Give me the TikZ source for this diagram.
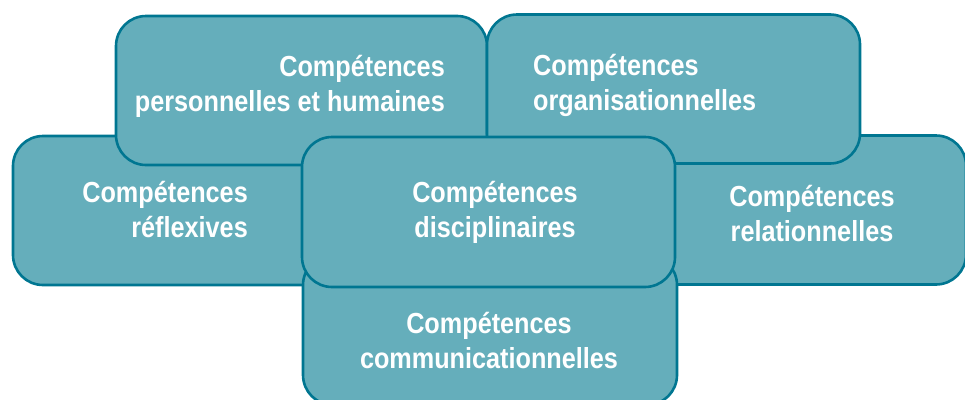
\documentclass[tikz,border=0pt]{standalone}
\usepackage{fontspec}
\setmainfont{Liberation Sans}[FakeStretch=0.87]
\definecolor{tealfill}{RGB}{101,174,187}
\definecolor{tealline}{RGB}{0,118,145}

\begin{document}
\begin{tikzpicture}[x=1pt, y=-1pt, every node/.style={font=\bfseries\fontsize{29}{34.5}\selectfont},
		box/.style={draw=tealline, fill=tealfill, line width=2.6pt, rounded corners=30pt, rectangle, inner sep=0pt, minimum height=149pt},
		txt/.style={text=white, inner sep=0pt}]
			\useasboundingbox (0,0) rectangle (965,399);

			% Boxes, back to front
			\node[box, minimum width=373pt] (refl) at (199.5,210.5) {};
			\node[box, minimum width=373pt] (rela) at (779.5,210) {};
			\node[box, minimum width=371pt] (pers) at (301.5,90.5) {};
			\node[box, minimum width=373pt] (orga) at (673.5,89) {};
			\node[box, minimum width=374pt, minimum height=150pt] (comm) at (490,330) {};
			\node[box, minimum width=373pt, minimum height=150pt] (disc) at (488.5,212) {};

			% Labels (base = last line)
			\node[txt, anchor=base east, align=right] (pers-t) at (445,111) {Compétences\\personnelles et humaines};
			\node[txt, anchor=base west, align=left] (orga-t) at (533,110) {Compétences\\organisationnelles};
			\node[txt, anchor=base east, align=right] (refl-t) at (248,237) {Compétences\\réflexives};
			\node[txt, anchor=base, align=center] (rela-t) at (812,241) {Compétences\\relationnelles};
			\node[txt, anchor=base, align=center] (disc-t) at (495,237) {Compétences\\disciplinaires};
			\node[txt, anchor=base, align=center] (comm-t) at (489,368) {Compétences\\communicationnelles};
		\end{tikzpicture}
\end{document}
